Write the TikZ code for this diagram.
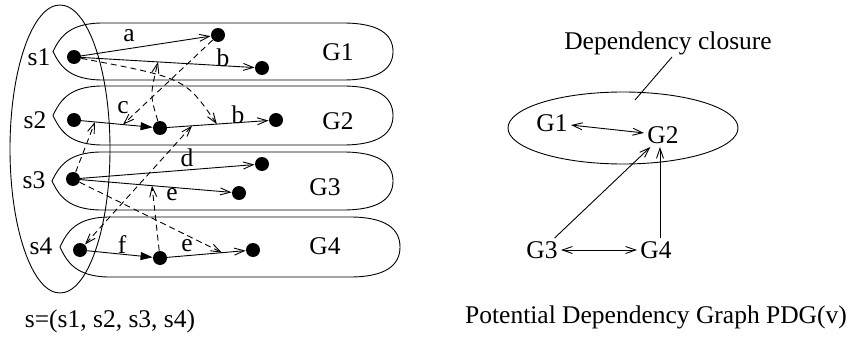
\documentclass[tikz,border=0pt]{standalone}
\usepackage{fontspec}
\setmainfont{Liberation Serif}
\usetikzlibrary{arrows.meta,calc}
\newcommand\mycigar[4]{%
  \draw (#1,#3) .. controls ({#1+7},{#3-0.5*#4}) and ({#1+16},{#3-#4}) .. ({#1+50},{#3-#4})
    -- ({#2-50},{#3-#4}) .. controls ({#2-14},{#3-#4}) and (#2,{#3-0.6*#4}) .. (#2,#3)
    .. controls (#2,{#3+0.6*#4}) and ({#2-14},{#3+#4}) .. ({#2-50},{#3+#4})
    -- ({#1+50},{#3+#4}) .. controls ({#1+16},{#3+#4}) and ({#1+7},{#3+0.5*#4}) .. cycle;}
\begin{document}
\begin{tikzpicture}[x=1pt,y=-1pt,line width=0.9pt,
  dot/.style={circle,fill,inner sep=0pt,minimum size=14pt},
  lbl/.style={font=\fontsize{25.5}{30}\selectfont,inner sep=1pt},
  gn/.style={font=\fontsize{25.5}{30}\selectfont,inner sep=3pt},
  oarr/.style={-{Straight Barb[length=10pt,width=7pt]}},
  barr/.style={{Straight Barb[length=10pt,width=7pt]}-{Straight Barb[length=10pt,width=7pt]}},
  farr/.style={-{Triangle[length=12pt,width=8pt]}},
  dsh/.style={dash pattern=on 6pt off 4pt}]
\useasboundingbox (0,0) rectangle (851,337);

% big ellipse s
\draw (60,149) ellipse [x radius=50, y radius=144];

% group shapes
\mycigar{53}{393}{51.5}{28.5}
\mycigar{53}{393}{115.5}{29.5}
\mycigar{52}{393}{181}{29}
\mycigar{60}{400}{247}{30}

% dots
\node[dot] (s1) at (74,57) {};
\node[dot] (a1) at (218,35) {};
\node[dot] (b1) at (262,68) {};
\node[dot] (s2) at (74,120) {};
\node[dot] (c2) at (160,128) {};
\node[dot] (b2) at (276,120) {};
\node[dot] (s3) at (73,179) {};
\node[dot] (d3) at (262,164) {};
\node[dot] (e3) at (239,193) {};
\node[dot] (s4) at (80,250) {};
\node[dot] (f4) at (160,258) {};
\node[dot] (e4) at (253,250) {};

% labels
\node[lbl] at (39,57) {s1};
\node[lbl] at (35,120) {s2};
\node[lbl] at (34,180) {s3};
\node[lbl] at (41,246) {s4};
\node[lbl] at (338,52) {G1};
\node[lbl] at (338,121) {G2};
\node[lbl] at (325,187) {G3};
\node[lbl] at (325,246) {G4};
\node[lbl] at (129,36) {a};
\node[lbl] at (223,58) {b};
\node[lbl] at (123,108) {c};
\node[lbl] at (238,115) {b};
\node[lbl] at (187,158) {d};
\node[lbl] at (172,195) {e};
\node[lbl] at (122,245) {f};
\node[lbl] at (187,246) {e};

% solid edges
\draw[oarr] (s1.center) -- (a1);
\draw[oarr] (s1.center) -- (b1);
\draw[farr] (s2.center) -- (c2);
\draw[oarr] (c2.center) -- (b2);
\draw[oarr] (s3.center) -- (d3);
\draw[oarr] (s3.center) -- (e3);
\draw[farr] (s4.center) -- (f4);
\draw[oarr] (f4.center) -- (e4);

% points on edges
\path (s2.center) -- (c2.center) coordinate[pos=0.57] (pc) coordinate[pos=0.244] (pc0);
\path (c2.center) -- (b2.center) coordinate[pos=0.49] (pb2) coordinate[pos=0.276] (pb2a);
\path (s1.center) -- (b1.center) coordinate[pos=0.447] (pb1);
\path (f4.center) -- (e4.center) coordinate[pos=0.667] (pe4);
\path (s3.center) -- (e3.center) coordinate[pos=0.476] (pe3);

% dashed dependencies
\draw[dsh,oarr] (a1) -- (pc);
\draw[dsh,oarr] (s1) .. controls (185,78) .. (pb2);
\draw[dsh,oarr] (c2) .. controls (150,95) .. (pb1);
\draw[dsh,oarr] (s3) -- (pc0);
\draw[dsh,barr] (s4) -- (pb2a);
\draw[dsh,oarr] (s3) -- (pe4);
\draw[dsh,oarr] (f4) -- (pe3);

\node[lbl] (sl) at (110,321) {s=(s1, s2, s3, s4)};

% right part
\node[lbl] (dc) at (668,43) {Dependency closure};
\draw (623,128) ellipse [x radius=115, y radius=36];
\coordinate (lt) at (672,57);
\coordinate (le) at (635,100);
\draw (lt) -- (le);

\node[gn] (G1) at (552,123) {G1};
\node[gn] (G2) at (663,135) {G2};
\node[gn] (G3) at (542,250) {G3};
\node[gn] (G4) at (656,250) {G4};
\draw[barr] (G1) -- (G2);
\draw[oarr] (G3) -- (G2);
\draw[oarr] ([xshift=4pt]G4.north) -- ([xshift=-3pt]G2.south);
\draw[barr] (G3) -- (G4);

\node[lbl] (pdg) at (656,317) {Potential Dependency Graph PDG(v)};
\end{tikzpicture}
\end{document}
